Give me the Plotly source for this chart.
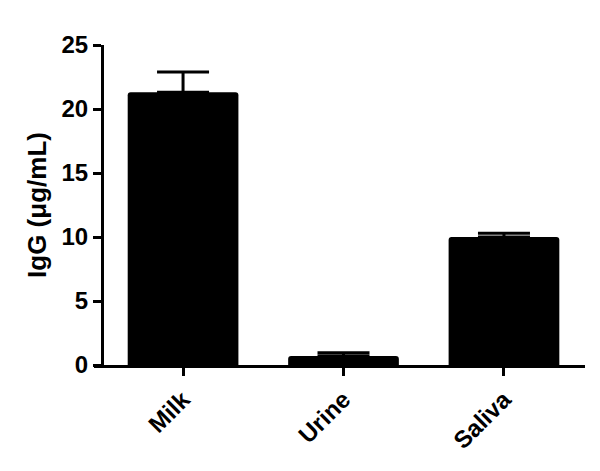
import plotly.graph_objects as go

# Данные
samples = ["Milk", "Urine", "Saliva"]
igg_mean = [21.3, 0.7, 10.0]
igg_err = [1.6, 0.25, 0.3]

font_main = "Arial, Liberation Sans, sans-serif"

fig = go.Figure(data=go.Bar(
    x=samples, y=igg_mean, width=0.69,
    marker=dict(color="black", line=dict(width=0), cornerradius=3),
    error_y=dict(type="data", symmetric=False, array=igg_err,
                 arrayminus=[0, 0, 0], color="black", thickness=3, width=26),
))

# страница имеет отступ 8px, поэтому фигура чуть меньше окна
fig.update_layout(
    width=592, height=463,
    margin=dict(l=86, r=15, t=37, b=106, autoexpand=False),
    paper_bgcolor="white", plot_bgcolor="white",
    showlegend=False,
    font=dict(family=font_main, size=24, color="black"),
    xaxis=dict(
        range=[-0.555, 2.505], showline=True, linecolor="black", linewidth=3,
        ticks="outside", ticklen=8, tickwidth=3, tickcolor="black",
        tickangle=-45, tickfont=dict(size=24, family=font_main, weight="bold"),
        showgrid=False, zeroline=False, automargin=False,
    ),
    yaxis=dict(
        range=[0, 25], tickvals=[0, 5, 10, 15, 20, 25],
        anchor="free", position=0.0163,
        showline=True, linecolor="black", linewidth=3,
        ticks="outside", ticklen=8, tickwidth=3, tickcolor="black",
        tickfont=dict(size=24, family=font_main, weight="bold"),
        title=dict(text="<b>IgG (μg/mL)</b>", font=dict(size=26, family=font_main), standoff=6),
        showgrid=False, zeroline=False, automargin=False,
    ),
)

fig.write_html("out.html")
